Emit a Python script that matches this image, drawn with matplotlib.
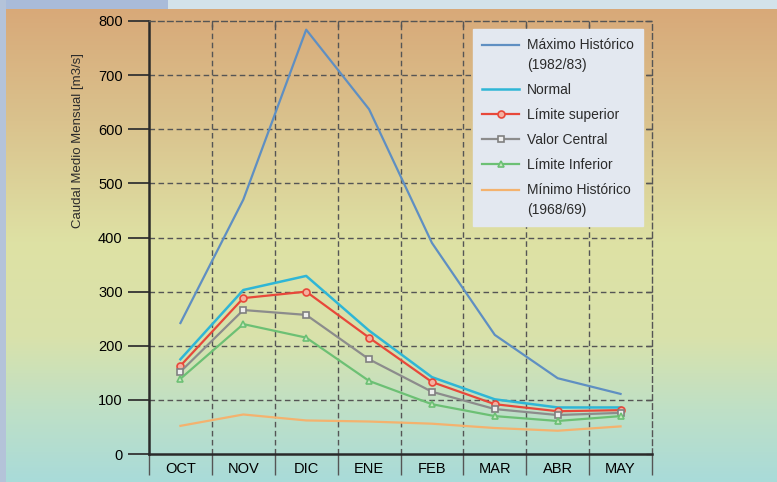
import numpy as np
import matplotlib as mpl
import matplotlib.pyplot as plt
import matplotlib.ticker as ticker
from matplotlib.colors import LinearSegmentedColormap
from matplotlib.patches import Rectangle

# data
months = ["OCT", "NOV", "DIC", "ENE", "FEB", "MAR", "ABR", "MAY"]
maximo_historico = [242, 470, 784, 637, 390, 220, 140, 111]
normal = [175, 303, 329, 228, 142, 101, 86, 86]
limite_superior = [163, 288, 300, 215, 133, 92, 79, 81]
valor_central = [152, 266, 257, 175, 115, 83, 72, 76]
limite_inferior = [139, 240, 215, 135, 92, 70, 61, 70]
minimo_historico = [52, 73, 62, 60, 56, 48, 43, 51]

y_ticks = [0, 100, 200, 300, 400, 500, 600, 700, 800]

W, H = 777, 482

mpl.rcParams.update({
    "font.family": ["Liberation Sans Narrow", "DejaVu Sans Condensed", "Liberation Sans", "DejaVu Sans"],
    "font.size": 10,
    "text.color": "#2b2b2b",
})

fig = plt.figure(figsize=(W / 100, H / 100), dpi=100)

# background gradient over the whole figure (top -> bottom)
bg = fig.add_axes([0, 0, 1, 1], zorder=-10)
cmap = LinearSegmentedColormap.from_list(
    "bg",
    [(0.0, "#d8a777"), (0.25, "#dac28d"), (0.5, "#dee1a4"),
     (0.7, "#d9e2ab"), (0.85, "#bfe0c6"), (1.0, "#a9dbd9")],
)
grad = np.linspace(0, 1, 256).reshape(-1, 1)
bg.imshow(grad, aspect="auto", cmap=cmap, extent=[0, 1, 0, 1], origin="upper")
bg.set_xlim(0, 1)
bg.set_ylim(0, 1)
bg.axis("off")

# frame strips at top and left
fig.patches.append(Rectangle((0, 1 - 9 / H), 1, 9 / H, transform=fig.transFigure,
                             facecolor="#d3e2ea", edgecolor="none", zorder=-5))
fig.patches.append(Rectangle((0, 1 - 9 / H), 168 / W, 9 / H, transform=fig.transFigure,
                             facecolor="#a9bbd9", edgecolor="none", zorder=-4))
fig.patches.append(Rectangle((0, 0), 6 / W, 1, transform=fig.transFigure,
                             facecolor="#b4c3d9", edgecolor="none", zorder=-4))

ax = fig.add_axes([149 / W, 1 - 454 / H, (652 - 149) / W, (454 - 21) / H])
ax.set_facecolor("none")

x = np.arange(len(months))
ax.plot(x, maximo_historico, color="#5f8fc2", lw=1.6, label="Máximo Histórico\n(1982/83)")
ax.plot(x, normal, color="#2fb6d6", lw=1.8, label="Normal")
ax.plot(x, limite_superior, color="#e8483a", lw=1.6, marker="o", ms=5,
        mfc="#f4b0a0", mec="#e8483a", mew=1.2, label="Límite superior")
ax.plot(x, valor_central, color="#8c8c8c", lw=1.6, marker="s", ms=5,
        mfc="#eeeeee", mec="#808080", mew=1.2, label="Valor Central")
ax.plot(x, limite_inferior, color="#6cc074", lw=1.6, marker="^", ms=5,
        mfc="#c8e8c0", mec="#6cc074", mew=1.2, label="Límite Inferior")
ax.plot(x, minimo_historico, color="#f4b26e", lw=1.6, label="Mínimo Histórico\n(1968/69)")

ax.set_xlim(-0.5, len(months) - 0.5)
ax.set_ylim(0, 800)

# grid
grid_kw = dict(color="#555555", lw=1.0, ls=(0, (4, 2.5)), zorder=0)
for yv in y_ticks[1:-1]:
    ax.axhline(yv, **grid_kw)
for xv in x[:-1] + 0.5:
    ax.axvline(xv, **grid_kw)

for side in ["top", "right"]:
    ax.spines[side].set_linestyle((0, (4, 2.5)))
    ax.spines[side].set_color("#555555")
    ax.spines[side].set_linewidth(1.0)
for side in ["left", "bottom"]:
    ax.spines[side].set_color("#2a2a2a")
    ax.spines[side].set_linewidth(1.8)

ax.yaxis.set_major_locator(ticker.FixedLocator(y_ticks))
ax.tick_params(axis="y", which="major", direction="out", length=15, width=1.3,
               color="#333333", labelsize=10.5, pad=4)

ax.xaxis.set_major_locator(ticker.FixedLocator(x))
ax.set_xticklabels(months)
ax.tick_params(axis="x", which="major", length=0, labelsize=10.5, pad=6)
ax.xaxis.set_minor_locator(ticker.FixedLocator(np.arange(-0.5, len(months), 1.0)))
ax.tick_params(axis="x", which="minor", direction="out", length=15, width=1.0,
               color="#555555")

# short inward ticks on the right and top edges
sec_y = ax.secondary_yaxis("right")
sec_y.yaxis.set_major_locator(ticker.FixedLocator(y_ticks))
sec_y.tick_params(direction="in", length=4, width=1.0, color="#555555", labelright=False)
sec_y.spines["right"].set_visible(False)
sec_x = ax.secondary_xaxis("top")
sec_x.xaxis.set_major_locator(ticker.FixedLocator(np.arange(0.5, len(months) - 1, 1.0)))
sec_x.tick_params(direction="in", length=4, width=1.0, color="#555555", labeltop=False)
sec_x.spines["top"].set_visible(False)

fig.text(78 / W, 1 - 228 / H, "Caudal Medio Mensual [m3/s]",
         rotation=90, ha="center", va="bottom", fontsize=9.5, color="#2b2b2b")

leg = ax.legend(loc="upper right", bbox_to_anchor=(643 / W, 1 - 29 / H),
                bbox_transform=fig.transFigure, borderaxespad=0, fontsize=10,
                frameon=True, fancybox=False, facecolor="#e3e8f0", edgecolor="#e3e8f0",
                framealpha=1, handlelength=2.7, handletextpad=0.55, labelspacing=0.8,
                borderpad=0.65)
for t in leg.get_texts():
    t.set_linespacing(1.5)
# put the handle of two-line entries next to the first line
for h, t in zip(leg.legend_handles, leg.get_texts()):
    if "\n" in t.get_text():
        h.set_ydata(np.asarray(h.get_ydata()) + 7.5)

fig.savefig("out.png", dpi=100)
